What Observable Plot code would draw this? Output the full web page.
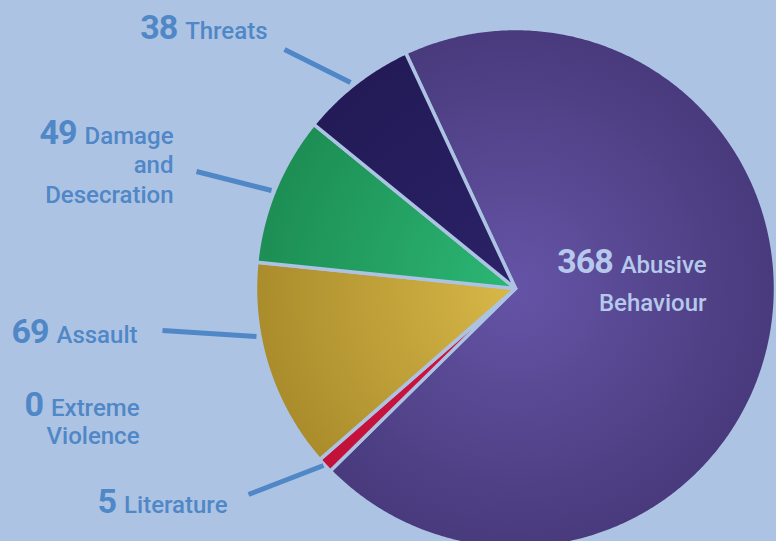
<!DOCTYPE html>
<html><head><meta charset="utf-8">
<script src="https://cdn.jsdelivr.net/npm/d3@7"></script>
<script src="https://cdn.jsdelivr.net/npm/@observablehq/plot@0.6"></script>
<style>
html,body{margin:0;padding:0;background:#adc3e3;overflow:hidden;}
#chart{width:776px;height:541px;}
</style></head><body><div id="chart"></div>
<script>
// ---- data ----
const categories = ["Abusive Behaviour", "Literature", "Extreme Violence", "Assault", "Damage and Desecration", "Threats"];
const values = [368, 5, 0, 69, 49, 38];
const labelLines = [["Abusive", "Behaviour"], ["Literature"], ["Extreme", "Violence"], ["Assault"], ["Damage", "and", "Desecration"], ["Threats"]];
const innerColors = ["#6554a6", "#d0163e", "#d0163e", "#d8b848", "#2cb775", "#2b2268"];
const outerColors = ["#483a7c", "#c2123a", "#c2123a", "#aa8c2c", "#1d8e54", "#231a57"];

// ---- layout ----
const W = 776, H = 541, CX = 515, CY = 288, R = 260;
const START = -25; // compass degrees where first slice begins
const BG = "#adc3e3", BLUE = "#4f87c7", LIGHT = "#b6c9ec";
const toU = px => (px - CX) / R, toV = py => (CY - py) / R;
// label anchors: right edge x, first baseline y, line spacing (px)
const labelLayout = [
  {right: 706, y: 272, lh: 38, light: true},
  {right: 227, y: 512, lh: 28},
  {right: 139, y: 415, lh: 28},
  {right: 137, y: 342, lh: 28},
  {right: 173, y: 143, lh: 29.5},
  {right: 267, y: 38, lh: 28}
];
// leader lines (px endpoints), null where none
const leaderLayout = [null, [248, 494, 323, 465], null, [162, 330, 256, 336], [196, 171, 271, 190], [284, 49, 350, 82]];

const NAME_FONT = "500 24px Roboto";
const ctx = document.createElement("canvas").getContext("2d");
const measure = (t, f) => { ctx.font = f; return ctx.measureText(t).width; };

// ---- slices ----
const total = d3.sum(values);
let acc = START;
const slices = values.map((v, i) => {
  const a0 = acc, a1 = acc + v / total * 360; acc = a1;
  const pts = [{u: 0, v: 0}];
  const n = Math.max(2, Math.ceil((a1 - a0) / 0.5));
  for (let k = 0; k <= n; k++) {
    const a = (a0 + (a1 - a0) * k / n) * Math.PI / 180;
    pts.push({u: Math.sin(a), v: Math.cos(a)});
  }
  return {i, v, pts};
});

// ---- labels ----
const nameRows = [], numRows = [];
labelLines.forEach((lines, i) => {
  const L = labelLayout[i];
  lines.forEach((t, k) => nameRows.push({u: toU(L.right), v: toV(L.y + k * L.lh), t, light: !!L.light}));
  const w = measure(lines[0], NAME_FONT) + 8;
  numRows.push({u: toU(L.right - w), v: toV(L.y), t: String(values[i]), light: !!L.light});
});
const leaders = leaderLayout.filter(d => d).map(d => ({u1: toU(d[0]), v1: toV(d[1]), u2: toU(d[2]), v2: toV(d[3])}));

// gradient defs mark using scales
function gradients(index, scales) {
  const ns = "http://www.w3.org/2000/svg";
  const defs = document.createElementNS(ns, "defs");
  const cx = scales.x(0), cy = scales.y(0), r = scales.x(1) - scales.x(0);
  innerColors.forEach((c, i) => {
    const g = document.createElementNS(ns, "radialGradient");
    g.setAttribute("id", "g" + i);
    g.setAttribute("gradientUnits", "userSpaceOnUse");
    g.setAttribute("cx", cx); g.setAttribute("cy", cy); g.setAttribute("r", r);
    [[0, c], [1, outerColors[i]]].forEach(([o, col]) => {
      const s = document.createElementNS(ns, "stop");
      s.setAttribute("offset", o); s.setAttribute("stop-color", col);
      g.appendChild(s);
    });
    defs.appendChild(g);
  });
  return defs;
}

const chart = Plot.plot({
  width: W, height: H,
  margin: 0,
  style: {background: BG, overflow: "visible"},
  x: {domain: [toU(0), toU(W)], axis: null},
  y: {domain: [toV(H), toV(0)], axis: null},
  marks: [
    gradients,
    ...slices.filter(s => s.v > 0).map(s => Plot.line(s.pts, {
      x: "u", y: "v", fill: `url(#g${s.i})`, stroke: BG, strokeWidth: 3.5,
      strokeLinejoin: "round", curve: "linear-closed"
    })),
    Plot.link(leaders, {x1: "u1", y1: "v1", x2: "u2", y2: "v2", stroke: BLUE, strokeWidth: 5}),
    Plot.text(nameRows, {x: "u", y: "v", text: "t", textAnchor: "end", lineAnchor: "bottom",
      fill: d => d.light ? LIGHT : BLUE, fontFamily: "Roboto", fontWeight: 500, fontSize: 24}),
    Plot.text(numRows, {x: "u", y: "v", text: "t", textAnchor: "end", lineAnchor: "bottom",
      fill: d => d.light ? LIGHT : BLUE, fontFamily: "Roboto", fontWeight: 700, fontSize: 34})
  ],
  color: {type: "identity"}
});
chart.querySelectorAll('g[font-size="34"]').forEach(g => g.setAttribute("letter-spacing", "-1"));
document.getElementById("chart").appendChild(chart);
</script></body></html>
